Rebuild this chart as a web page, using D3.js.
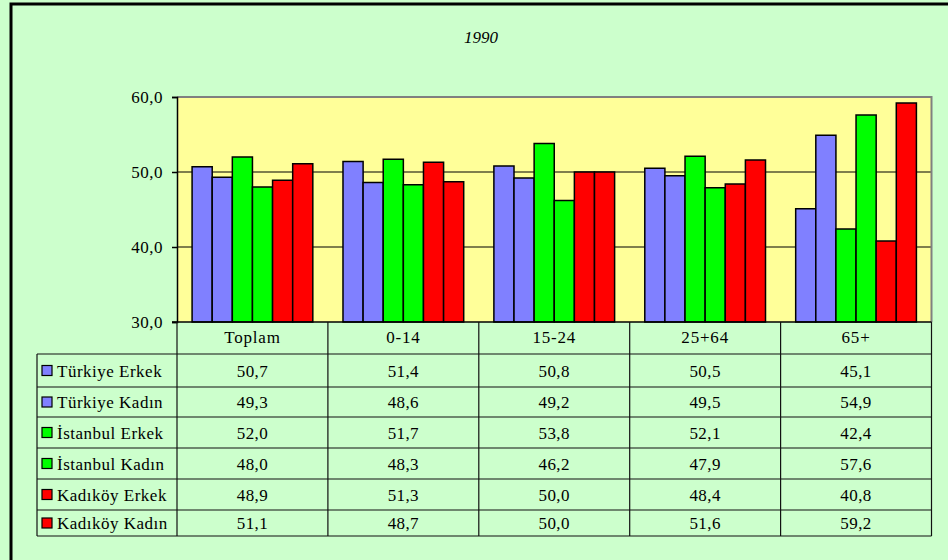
<!DOCTYPE html>
<html>
<head>
<meta charset="utf-8">
<script src="https://cdn.jsdelivr.net/npm/d3@7"></script>
<style>
html,body{margin:0;padding:0;background:#CCFFCC;}
svg{display:block;}
svg text{font-family:'Liberation Serif','Tinos','Times New Roman','Times','DejaVu Serif',serif !important;fill:#000;}
</style>
</head>
<body>
<svg id="chart" width="948" height="560"></svg>
<script>
const title = "1990";
const categories = ["Toplam", "0-14", "15-24", "25+64", "65+"];
const seriesNames = ["Türkiye Erkek", "Türkiye Kadın", "İstanbul Erkek", "İstanbul Kadın", "Kadıköy Erkek", "Kadıköy Kadın"];
const seriesColors = ["#8080FF", "#8080FF", "#00FF00", "#00FF00", "#FF0000", "#FF0000"];
const turkiyeErkek = [50.7, 51.4, 50.8, 50.5, 45.1];
const turkiyeKadin = [49.3, 48.6, 49.2, 49.5, 54.9];
const istanbulErkek = [52.0, 51.7, 53.8, 52.1, 42.4];
const istanbulKadin = [48.0, 48.3, 46.2, 47.9, 57.6];
const kadikoyErkek = [48.9, 51.3, 50.0, 48.4, 40.8];
const kadikoyKadin = [51.1, 48.7, 50.0, 51.6, 59.2];
const yTicks = [30, 40, 50, 60];
const seriesValues = [turkiyeErkek, turkiyeKadin, istanbulErkek, istanbulKadin, kadikoyErkek, kadikoyKadin];

const FONT = "'Liberation Serif','Tinos','Times New Roman','DejaVu Serif',serif";
const svg = d3.select("#chart").attr("font-family", FONT);
const plot = {left: 177, right: 931.5, top: 97, bottom: 322};
const legendLeft = 37;
const rowBounds = [322, 354, 387, 417, 448, 479, 510, 536];

const fmt = v => d3.format(".1f")(v).replace(".", ",");

// outer border
svg.append("rect").attr("x", 11).attr("y", 4).attr("width", 960).attr("height", 600)
  .attr("fill", "#CCFFCC").attr("stroke", "#000").attr("stroke-width", 3);

// title
svg.append("text").attr("x", 481).attr("y", 43).attr("text-anchor", "middle")
  .attr("font-family", FONT).attr("font-style", "italic").attr("font-size", 17).text(title);

const x0 = d3.scaleBand().domain(categories).range([plot.left, plot.right]).paddingInner(0).paddingOuter(0);
const x1 = d3.scaleBand().domain(d3.range(seriesNames.length)).range([0, x0.bandwidth()]).paddingInner(0).paddingOuter(0.75);
const y = d3.scaleLinear().domain([30, 60]).range([plot.bottom, plot.top]);

// plot background
svg.append("rect").attr("x", plot.left).attr("y", plot.top)
  .attr("width", plot.right - plot.left).attr("height", plot.bottom - plot.top)
  .attr("fill", "#FFFF99");

// gridlines
svg.append("g").selectAll("line").data(yTicks.filter(t => t > 30 && t < 60)).join("line")
  .attr("x1", plot.left).attr("x2", plot.right)
  .attr("y1", d => y(d)).attr("y2", d => y(d))
  .attr("stroke", "#000").attr("stroke-width", 1.2);

// plot border top/right gray
svg.append("path")
  .attr("d", `M${plot.left},${plot.top}H${plot.right}V${plot.bottom}`)
  .attr("fill", "none").attr("stroke", "#808080").attr("stroke-width", 2);

// bars
const groups = svg.append("g").selectAll("g").data(categories).join("g")
  .attr("transform", d => `translate(${x0(d)},0)`);
groups.selectAll("rect").data((c, ci) => seriesValues.map((s, si) => ({si, v: s[ci]}))).join("rect")
  .attr("x", d => x1(d.si)).attr("width", x1.bandwidth())
  .attr("y", d => y(d.v)).attr("height", d => y(30) - y(d.v))
  .attr("fill", d => seriesColors[d.si]).attr("stroke", "#000").attr("stroke-width", 1.5);

// y axis
const yAxis = d3.axisLeft(y).tickValues(yTicks).tickFormat(fmt).tickSize(5).tickPadding(9);
const ya = svg.append("g").attr("transform", `translate(${plot.left},0)`).call(yAxis);
ya.attr("font-family", FONT).attr("font-size", 17);
ya.select(".domain").attr("stroke", "#000").attr("stroke-width", 1.5);
ya.selectAll(".tick line").attr("stroke", "#000").attr("stroke-width", 1.5);
ya.selectAll(".tick text").attr("font-family", FONT).attr("font-size", 17).attr("fill", "#000")
  .attr("letter-spacing", 0.5);

// bottom axis line
svg.append("line").attr("x1", plot.left - 5).attr("x2", plot.right)
  .attr("y1", plot.bottom).attr("y2", plot.bottom).attr("stroke", "#000").attr("stroke-width", 1.5);

// data table
const tbl = svg.append("g").attr("font-family", FONT);
const lineColor = "#111";
rowBounds.slice(1).forEach(yy => {
  tbl.append("line").attr("x1", legendLeft).attr("x2", plot.right).attr("y1", yy).attr("y2", yy)
    .attr("stroke", lineColor).attr("stroke-width", 1.2);
});
const colBounds = categories.map(c => x0(c)).concat([plot.right]);
colBounds.forEach(xx => {
  tbl.append("line").attr("x1", xx).attr("x2", xx).attr("y1", rowBounds[0]).attr("y2", rowBounds[rowBounds.length - 1])
    .attr("stroke", lineColor).attr("stroke-width", 1.2);
});
tbl.append("line").attr("x1", legendLeft).attr("x2", legendLeft).attr("y1", rowBounds[1]).attr("y2", rowBounds[rowBounds.length - 1])
  .attr("stroke", lineColor).attr("stroke-width", 1.2);

tbl.selectAll("text.hdr").data(categories).join("text").attr("class", "hdr")
  .attr("x", d => x0(d) + x0.bandwidth() / 2).attr("y", 343)
  .attr("text-anchor", "middle").attr("font-size", 17).attr("letter-spacing", 0.8).text(d => d);

seriesNames.forEach((name, si) => {
  const top = rowBounds[si + 1], bot = rowBounds[si + 2];
  const cy = (top + bot) / 2;
  tbl.append("rect").attr("x", 42).attr("y", cy - 5).attr("width", 10).attr("height", 10)
    .attr("fill", seriesColors[si]).attr("stroke", "#000").attr("stroke-width", 1.2);
  tbl.append("text").attr("x", 57).attr("y", cy + 6).attr("font-size", 17).attr("letter-spacing", 0.5).text(name);
  categories.forEach((c, ci) => {
    tbl.append("text").attr("x", x0(c) + x0.bandwidth() / 2).attr("y", cy + 6)
      .attr("text-anchor", "middle").attr("font-size", 17).attr("letter-spacing", 0.4).text(fmt(seriesValues[si][ci]));
  });
});
</script>
</body>
</html>
